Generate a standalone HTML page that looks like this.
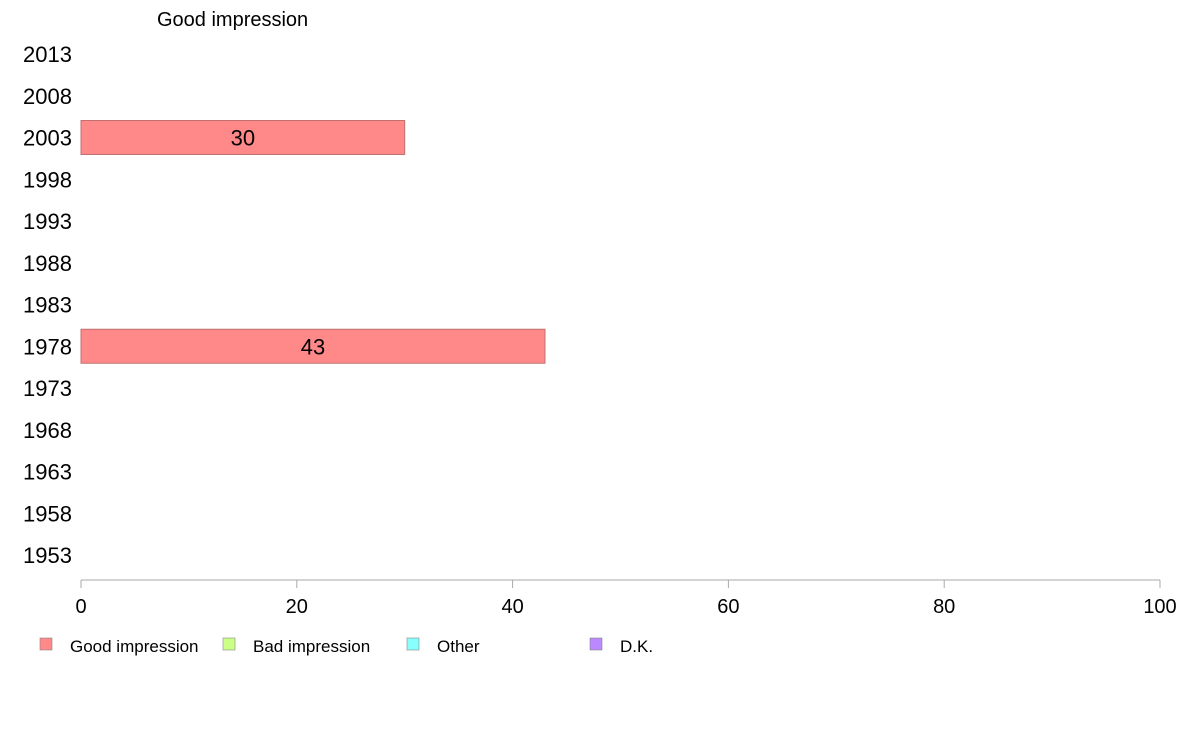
<!DOCTYPE html>
<html><head><meta charset="utf-8"><style>
body{margin:0;background:#fff;font-family:"Liberation Sans",sans-serif;}
svg{display:block}
</style></head><body>
<svg id="chart" width="1188" height="736">
<text x="157" y="26" font-size="20" fill="#000">Good impression</text>
<g id="rows"></g><g id="axis"></g><g id="legend"></g>
</svg>
<script>
const categories=["2013","2008","2003","1998","1993","1988","1983","1978","1973","1968","1963","1958","1953"];
const goodValues=[null,null,30,null,null,null,null,43,null,null,null,null,null];
const xTicks=[0,20,40,60,80,100];
const legendLabels=["Good impression","Bad impression","Other","D.K."];
const legendColors=["#ff8888","#ccff88","#88ffff","#bb88ff"];
const NS="http://www.w3.org/2000/svg";
const x0=81,x1=1160;
const xs=v=>x0+(v/100)*(x1-x0);
const ys=i=>54+i*41.75;
function mk(t,a,p){const e=document.createElementNS(NS,t);for(const k in a)e.setAttribute(k,a[k]);p.appendChild(e);return e;}
const rows=document.getElementById('rows');
categories.forEach((c,i)=>{
 const t=mk('text',{x:72,y:ys(i)+8,'font-size':22,'text-anchor':'end'},rows);
 t.textContent=c;
 
 
 const v=goodValues[i];
 if(v!=null){
  const r=mk('rect',{x:xs(0),y:ys(i)-17,width:xs(v)-xs(0),height:34,fill:'#ff8888',stroke:'#c07070','stroke-width':1},rows);
  
  
  const l=mk('text',{x:(xs(0)+xs(v))/2,y:ys(i)+8,'font-size':22,'text-anchor':'middle'},rows);
  l.textContent=v;
  
  
 }
});
const ax=document.getElementById('axis');
const line=mk('line',{x1:x0,x2:x1,y1:580,y2:580,stroke:'#aaa','stroke-width':1},ax);


xTicks.forEach(v=>{
 const tk=mk('line',{x1:xs(v),x2:xs(v),y1:580,y2:588,stroke:'#aaa'},ax);
 
 
 const t=mk('text',{x:xs(v),y:613,'font-size':20,'text-anchor':'middle'},ax);
 t.textContent=v;
 
 
});
const lg=document.getElementById('legend');
const lx=[40,223,407,590];
legendLabels.forEach((s,i)=>{
 const r=mk('rect',{x:lx[i],y:638,width:12,height:12,fill:legendColors[i],stroke:'#888','stroke-width':0.6},lg);
 
 
 const t=mk('text',{x:lx[i]+30,y:652,'font-size':17},lg);
 t.textContent=s;
 
 
});
</script>
</body></html>
